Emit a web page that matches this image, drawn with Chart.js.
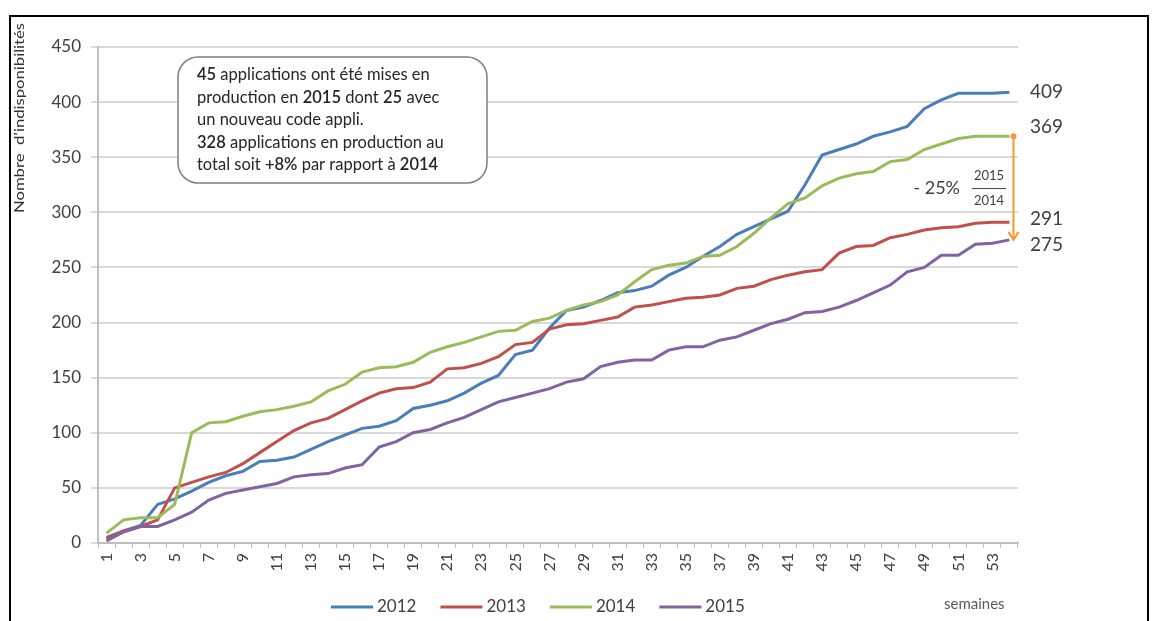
<!DOCTYPE html>
<html>
<head>
<meta charset="utf-8">
<script src="https://cdn.jsdelivr.net/npm/chart.js@4/dist/chart.umd.min.js"></script>
<style>
  html, body { margin: 0; padding: 0; background: #fff; }
  #wrap { width: 1160px; height: 621px; position: relative; }
</style>
</head>
<body>
<div id="wrap"><canvas id="c" width="1160" height="621"></canvas></div>
<script>
// Weeks of the year (category axis)
const weeks = ['1','2','3','4','5','6','7','8','9','10','11','12','13','14','15','16','17','18',
  '19','20','21','22','23','24','25','26','27','28','29','30','31','32','33','34','35','36',
  '37','38','39','40','41','42','43','44','45','46','47','48','49','50','51','52','53','54'];

const seriesNames = ['2012', '2013', '2014', '2015'];

// Cumulative number of unavailabilities per week
const s2012 = [5,11,16,35,40,47,55,61,65,74, 75,78,85,92,98,104,106,111,122,125,
  129,136,145,152,171,175,195,211,214,220, 227,229,233,243,250,260,269,280,287,294,
  301,325,352,357,362,369,373,378,394,402, 408,408,408,409];
const s2013 = [4,11,15,21,50,55,60,64,72,82, 92,102,109,113,121,129,136,140,141,146,
  158,159,163,169,180,182,194,198,199,202, 205,214,216,219,222,223,225,231,233,239,
  243,246,248,263,269,270,277,280,284,286, 287,290,291,291];
const s2014 = [9,21,23,23,35,100,109,110,115,119, 121,124,128,138,144,155,159,160,164,173,
  178,182,187,192,193,201,204,211,216,219, 225,237,248,252,254,260,261,269,281,295,
  308,313,324,331,335,337,346,348,357,362, 367,369,369,369];
const s2015 = [2,10,15,15,21,28,39,45,48,51, 54,60,62,63,68,71,87,92,100,103,
  109,114,121,128,132,136,140,146,149,160, 164,166,166,175,178,178,184,187,193,199,
  203,209,210,214,220,227,234,246,250,261, 261,271,272,275];

const yTicks = [0, 50, 100, 150, 200, 250, 300, 350, 400, 450];

const colors = ['#4a7ebb', '#c0504d', '#9bbb59', '#8064a2'];
const textGray = '#404040';
const FONT = 'Lato, "Open Sans", sans-serif';

const noteLines = [
  [['45', true], [' applications ont été mises en', false]],
  [['production en ', false], ['2015', true], [' dont ', false], ['25', true], [' avec', false]],
  [['un nouveau code appli.', false]],
  [['328', true], [' applications en production au', false]],
  [['total soit ', false], ['+8%', true], [' par rapport à ', false], ['2014', true]]
];

function roundRect(ctx, x, y, w, h, r) {
  ctx.beginPath();
  ctx.moveTo(x + r, y);
  ctx.lineTo(x + w - r, y);
  ctx.arcTo(x + w, y, x + w, y + r, r);
  ctx.lineTo(x + w, y + h - r);
  ctx.arcTo(x + w, y + h, x + w - r, y + h, r);
  ctx.lineTo(x + r, y + h);
  ctx.arcTo(x, y + h, x, y + h - r, r);
  ctx.lineTo(x, y + r);
  ctx.arcTo(x, y, x + r, y, r);
  ctx.closePath();
}

const decorations = {
  id: 'decorations',
  afterDraw(chart) {
    const { ctx, scales: { x, y } } = chart;
    const sets = chart.data.datasets;
    ctx.save();

    // outer frame
    ctx.strokeStyle = '#000';
    ctx.lineWidth = 2;
    ctx.strokeRect(10, 16, 1138, 640);

    // vertical axis title, running from the frame top down to about y=213
    ctx.save();
    ctx.translate(19, 213);
    ctx.rotate(-Math.PI / 2);
    ctx.fillStyle = '#333';
    ctx.font = '14px ' + FONT;
    ctx.textAlign = 'left';
    ctx.textBaseline = 'middle';
    const title = 'Nombre  d\u2019indisponibilités';
    const tw = ctx.measureText(title).width;
    ctx.scale(190 / tw, 1);
    ctx.fillText(title, 0, 0);
    ctx.restore();

    // "semaines" under the axis end
    ctx.fillStyle = '#595959';
    ctx.font = '15px ' + FONT;
    ctx.textAlign = 'left';
    ctx.textBaseline = 'middle';
    ctx.fillText('semaines', 944, 604);

    // legend
    let lx = 331;
    ctx.font = '17px ' + FONT;
    sets.forEach((ds) => {
      ctx.strokeStyle = ds.borderColor;
      ctx.lineWidth = 3;
      ctx.beginPath();
      ctx.moveTo(lx, 607);
      ctx.lineTo(lx + 42, 607);
      ctx.stroke();
      ctx.fillStyle = textGray;
      ctx.fillText(ds.label, lx + 46, 607);
      lx += 46 + ctx.measureText(ds.label).width + 24;
    });

    // note box
    roundRect(ctx, 178, 57, 309, 126, 20);
    ctx.fillStyle = '#fff';
    ctx.fill();
    ctx.strokeStyle = '#7f7f7f';
    ctx.lineWidth = 1.5;
    ctx.stroke();
    ctx.fillStyle = '#262626';
    ctx.textBaseline = 'middle';
    noteLines.forEach((line, i) => {
      let tx = 197;
      const ty = 75 + i * 22.5;
      line.forEach(([txt, bold]) => {
        ctx.font = (bold ? '600 ' : '') + '16.5px ' + FONT;
        ctx.fillText(txt, tx, ty);
        tx += ctx.measureText(txt).width;
      });
    });

    // end-of-year values
    const last = x.getPixelForValue(weeks.length - 1);
    const shifts = [0, -3, -9, 5];
    ctx.font = '19px ' + FONT;
    ctx.fillStyle = textGray;
    ctx.textAlign = 'left';
    sets.forEach((ds, i) => {
      const v = ds.data[ds.data.length - 1];
      ctx.fillText(String(v), 1030, y.getPixelForValue(v) + shifts[i]);
    });

    // 2014 -> 2015 arrow
    const v14 = s2014[s2014.length - 1];
    const v15 = s2015[s2015.length - 1];
    const ax = last + 4;
    const ay1 = y.getPixelForValue(v14);
    const ay2 = y.getPixelForValue(v15);
    ctx.strokeStyle = '#f39a2e';
    ctx.fillStyle = '#f39a2e';
    ctx.lineWidth = 2;
    ctx.beginPath();
    ctx.moveTo(ax, ay1);
    ctx.lineTo(ax, ay2);
    ctx.stroke();
    ctx.beginPath();
    ctx.moveTo(ax - 5, ay2 - 8);
    ctx.lineTo(ax, ay2);
    ctx.lineTo(ax + 5, ay2 - 8);
    ctx.stroke();
    ctx.beginPath();
    ctx.arc(ax, ay1, 3, 0, Math.PI * 2);
    ctx.fill();

    // percentage change
    const pct = Math.round((v15 / v14 - 1) * 100);
    const my = (ay1 + ay2) / 2;
    ctx.fillStyle = textGray;
    ctx.font = '18px ' + FONT;
    ctx.textAlign = 'right';
    ctx.fillText('- ' + Math.abs(pct) + '%', 960, my);
    ctx.textAlign = 'center';
    ctx.font = '13px ' + FONT;
    ctx.fillText('2015', 989, my - 12);
    ctx.fillText('2014', 989, my + 13);
    ctx.strokeStyle = textGray;
    ctx.lineWidth = 1;
    ctx.beginPath();
    ctx.moveTo(972, my + 0.5);
    ctx.lineTo(1006, my + 0.5);
    ctx.stroke();

    ctx.restore();
  }
};

new Chart(document.getElementById('c'), {
  type: 'line',
  data: {
    labels: weeks,
    datasets: [s2012, s2013, s2014, s2015].map((d, i) => ({
      label: seriesNames[i],
      data: d,
      borderColor: colors[i],
      backgroundColor: colors[i],
      borderWidth: 3,
      pointRadius: 0,
      tension: 0,
      fill: false,
      order: 4 - i
    }))
  },
  options: {
    responsive: false,
    animation: false,
    devicePixelRatio: 1,
    layout: { padding: { left: 50, right: 142, top: 47, bottom: 0 } },
    plugins: { legend: { display: false }, tooltip: { enabled: false } },
    scales: {
      x: {
        type: 'category',
        offset: true,
        grid: { display: true, offset: true, drawOnChartArea: false, drawTicks: true, tickLength: 5, color: '#bfbfbf', lineWidth: 1 },
        border: { display: true, color: '#bfbfbf', width: 2 },
        ticks: {
          autoSkip: false, maxRotation: 90, minRotation: 90, padding: 5,
          color: textGray, font: { family: FONT, size: 16 },
          callback: (v, i) => (i % 2 === 0 ? weeks[i] : '')
        },
        afterFit: (s) => { s.height = 78; }
      },
      y: {
        min: 0, max: 450,
        afterBuildTicks: (s) => { s.ticks = yTicks.map((v) => ({ value: v })); },
        ticks: { color: textGray, font: { family: FONT, size: 17 }, padding: 10 },
        grid: { color: '#d9d9d9', lineWidth: 2, tickLength: 7 },
        border: { display: true, color: '#bfbfbf', width: 2 },
        afterFit: (s) => { s.width = 48; }
      }
    }
  },
  plugins: [decorations]
});
</script>
</body>
</html>
